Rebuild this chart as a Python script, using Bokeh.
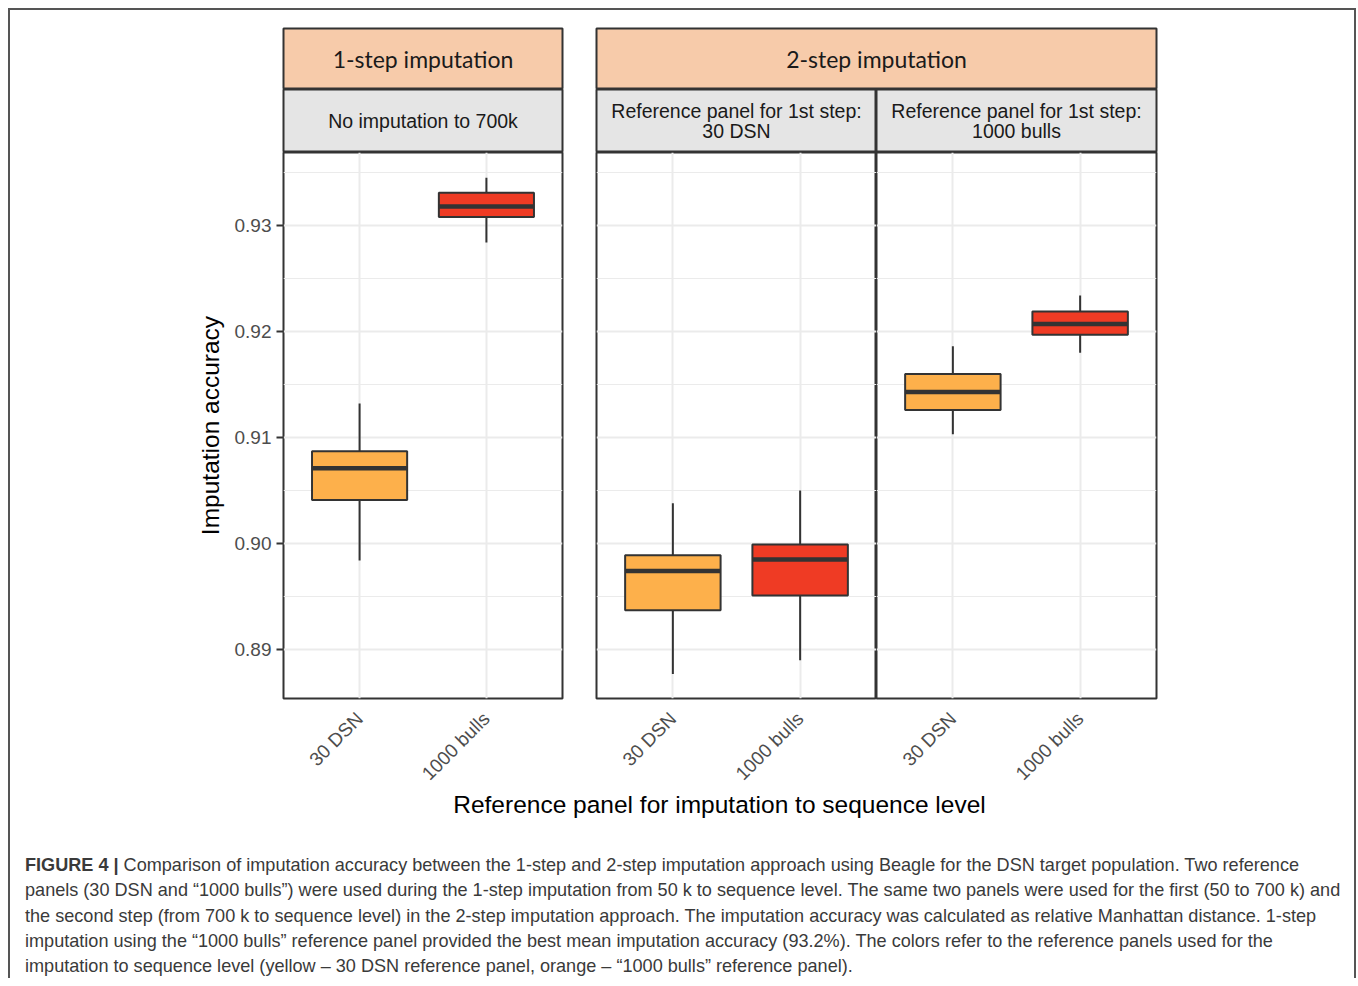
import math
from bokeh.plotting import figure
from bokeh.models import (ColumnDataSource, FactorRange, Range1d, FixedTicker,
                          NumeralTickFormatter, Div)
from bokeh.layouts import column, row
from bokeh.transform import dodge, factor_cmap
from bokeh.core.properties import value
from bokeh.embed import file_html
from bokeh.resources import INLINE

# ---------------- data ----------------
categories = ["30 DSN", "1000 bulls"]
panel_titles = ["No imputation to 700k",
                "Reference panel for 1st step:\n30 DSN",
                "Reference panel for 1st step:\n1000 bulls"]
group_titles = ["1-step imputation", "2-step imputation"]

# one row per panel, one value per category
lower_whisker = [[0.8984, 0.9284], [0.8877, 0.8890], [0.9103, 0.9180]]
q1 = [[0.9041, 0.9308], [0.8937, 0.8951], [0.9126, 0.9197]]
median = [[0.9071, 0.9318], [0.8974, 0.8985], [0.9143, 0.9207]]
q3 = [[0.9087, 0.9331], [0.8989, 0.8999], [0.9160, 0.9219]]
upper_whisker = [[0.9132, 0.9345], [0.9038, 0.9050], [0.9186, 0.9234]]

y_ticks = [0.89, 0.90, 0.91, 0.92, 0.93]
y_minor = [0.885, 0.895, 0.905, 0.915, 0.925, 0.935]
y_start, y_end = 0.88538, 0.93689

y_title = "Imputation accuracy"
x_title = "Reference panel for imputation to sequence level"

caption_lines = [
    "<b>FIGURE 4 |</b> Comparison of imputation accuracy between the 1-step and 2-step imputation approach using Beagle for the DSN target population. Two reference",
    "panels (30 DSN and \u201c1000 bulls\u201d) were used during the 1-step imputation from 50 k to sequence level. The same two panels were used for the first (50 to 700 k) and",
    "the second step (from 700 k to sequence level) in the 2-step imputation approach. The imputation accuracy was calculated as relative Manhattan distance. 1-step",
    "imputation using the \u201c1000 bulls\u201d reference panel provided the best mean imputation accuracy (93.2%). The colors refer to the reference panels used for the",
    "imputation to sequence level (yellow \u2013 30 DSN reference panel, orange \u2013 \u201c1000 bulls\u201d reference panel).",
]

# ---------------- styles ----------------
FILLS = ["#FDB04B", "#EF3B24"]
EDGE = "#333333"
GRID = "#EBEBEB"
PEACH = "#F7CBAA"
STRIP_GREY = "#E5E5E5"
FONT = "Liberation Sans"
STRIP_FONT = "Lato"

PANEL_H = 642
FRAME_BOTTOM = 96


def strip(text, width, bl, br, height, bt, fill, font, size):
    h = figure(x_range=Range1d(0, 1), y_range=Range1d(0, 1), width=width, height=height,
               min_border_left=bl, min_border_right=br, min_border_top=bt, min_border_bottom=0,
               x_axis_location=None, y_axis_location=None, toolbar_location=None,
               output_backend="svg", background_fill_color=fill, border_fill_color="white",
               outline_line_color=EDGE, outline_line_width=2)
    h.grid.visible = False
    h.text(x=[0.5], y=[0.5], text=[text], text_align="center", text_baseline="middle",
           text_font=value(font), text_font_size=size, text_color="#1A1A1A",
           text_line_height=0.95)
    return h


def panel(i, width, bl, br, show_y):
    p = figure(x_range=FactorRange(factors=categories, range_padding=0.1,
                                   range_padding_units="absolute"),
               y_range=Range1d(y_start, y_end), width=width, height=PANEL_H,
               min_border_left=bl, min_border_right=br, min_border_top=0,
               min_border_bottom=FRAME_BOTTOM, toolbar_location=None, output_backend="svg",
               y_axis_location="left" if show_y else None,
               background_fill_color="white", border_fill_color="white",
               outline_line_color=EDGE, outline_line_width=2)
    src = ColumnDataSource(dict(cat=categories, lo=lower_whisker[i], q1=q1[i],
                                med=median[i], q3=q3[i], hi=upper_whisker[i]))
    p.segment(x0="cat", x1="cat", y0="q3", y1="hi", source=src, line_color=EDGE, line_width=2)
    p.segment(x0="cat", x1="cat", y0="q1", y1="lo", source=src, line_color=EDGE, line_width=2)
    p.vbar(x="cat", top="q3", bottom="q1", width=0.75, source=src,
           fill_color=factor_cmap("cat", palette=FILLS, factors=categories),
           line_color=EDGE, line_width=2)
    p.segment(x0=dodge("cat", -0.375, range=p.x_range), x1=dodge("cat", 0.375, range=p.x_range),
              y0="med", y1="med", source=src, line_color=EDGE, line_width=4.5)

    # grids
    p.xgrid.grid_line_color = GRID
    p.xgrid.grid_line_width = 2
    p.ygrid.ticker = FixedTicker(ticks=y_ticks, minor_ticks=y_minor)
    p.ygrid.grid_line_color = GRID
    p.ygrid.grid_line_width = 2
    p.ygrid.minor_grid_line_color = GRID
    p.ygrid.minor_grid_line_width = 1

    # x axis
    xa = p.xaxis[0]
    xa.axis_line_color = None
    xa.major_tick_line_color = None
    xa.major_tick_out = 0
    xa.major_tick_in = 0
    xa.minor_tick_line_color = None
    xa.major_label_orientation = math.pi / 4
    xa.major_label_text_font = FONT
    xa.major_label_text_font_size = "19px"
    xa.major_label_text_color = "#4D4D4D"
    xa.major_label_standoff = 17

    if show_y:
        ya = p.yaxis[0]
        ya.ticker = FixedTicker(ticks=y_ticks)
        ya.formatter = NumeralTickFormatter(format="0.00")
        ya.axis_line_color = None
        ya.major_tick_out = 7
        ya.major_tick_in = 0
        ya.major_tick_line_color = EDGE
        ya.major_tick_line_width = 2
        ya.minor_tick_line_color = None
        ya.major_label_text_font = FONT
        ya.major_label_text_font_size = "19px"
        ya.major_label_text_color = "#4D4D4D"
        ya.major_label_standoff = 5
        ya.axis_label = y_title
        ya.axis_label_text_font = FONT
        ya.axis_label_text_font_size = "24.5px"
        ya.axis_label_text_font_style = "normal"
        ya.axis_label_text_color = "black"
        ya.axis_label_standoff = 8
    return p


# left column (1-step)
h1a = strip(group_titles[0], 569, 273, 17, 79, 18, PEACH, STRIP_FONT, "23px")
h1b = strip(panel_titles[0], 569, 273, 17, 63, 0, STRIP_GREY, FONT, "19.5px")
p1 = panel(0, 569, 273, 17, True)
left = column(h1a, h1b, p1, spacing=0)

# right column (2-step)
h2a = strip(group_titles[1], 775, 17, 198, 79, 18, PEACH, STRIP_FONT, "23px")
h2b = strip(panel_titles[1], 297, 17, 0, 63, 0, STRIP_GREY, FONT, "19.5px")
h3b = strip(panel_titles[2], 478, 0, 198, 63, 0, STRIP_GREY, FONT, "19.5px")
p2 = panel(1, 297, 17, 0, False)
p3 = panel(2, 478, 0, 198, False)
right = column(h2a, row(h2b, h3b, spacing=0), row(p2, p3, spacing=0), spacing=0)

top = row(left, right, spacing=0)

xtitle = Div(
    text=("<div style='margin-left:273px;width:873px;text-align:center;"
          "font-family:\"Liberation Sans\";font-size:24.5px;line-height:22px;color:#000;'>"
          + x_title + "</div>"),
    width=1344, height=59, margin=0)

caption = Div(
    text=("<div style='padding-left:15px;font-family:\"Liberation Sans\";font-size:18.1px;"
          "line-height:25.3px;color:#3A3A3A;white-space:nowrap;'>"
          + "<br>".join(caption_lines) + "</div>"),
    width=1344, height=125, margin=0)

root = column(top, xtitle, caption, spacing=0, margin=(8, 0, 0, 8),
              styles={"border-top": "2px solid #555555",
                      "border-left": "2px solid #555555",
                      "border-right": "2px solid #555555"})

open("out.html", "w").write(file_html(root, INLINE))
